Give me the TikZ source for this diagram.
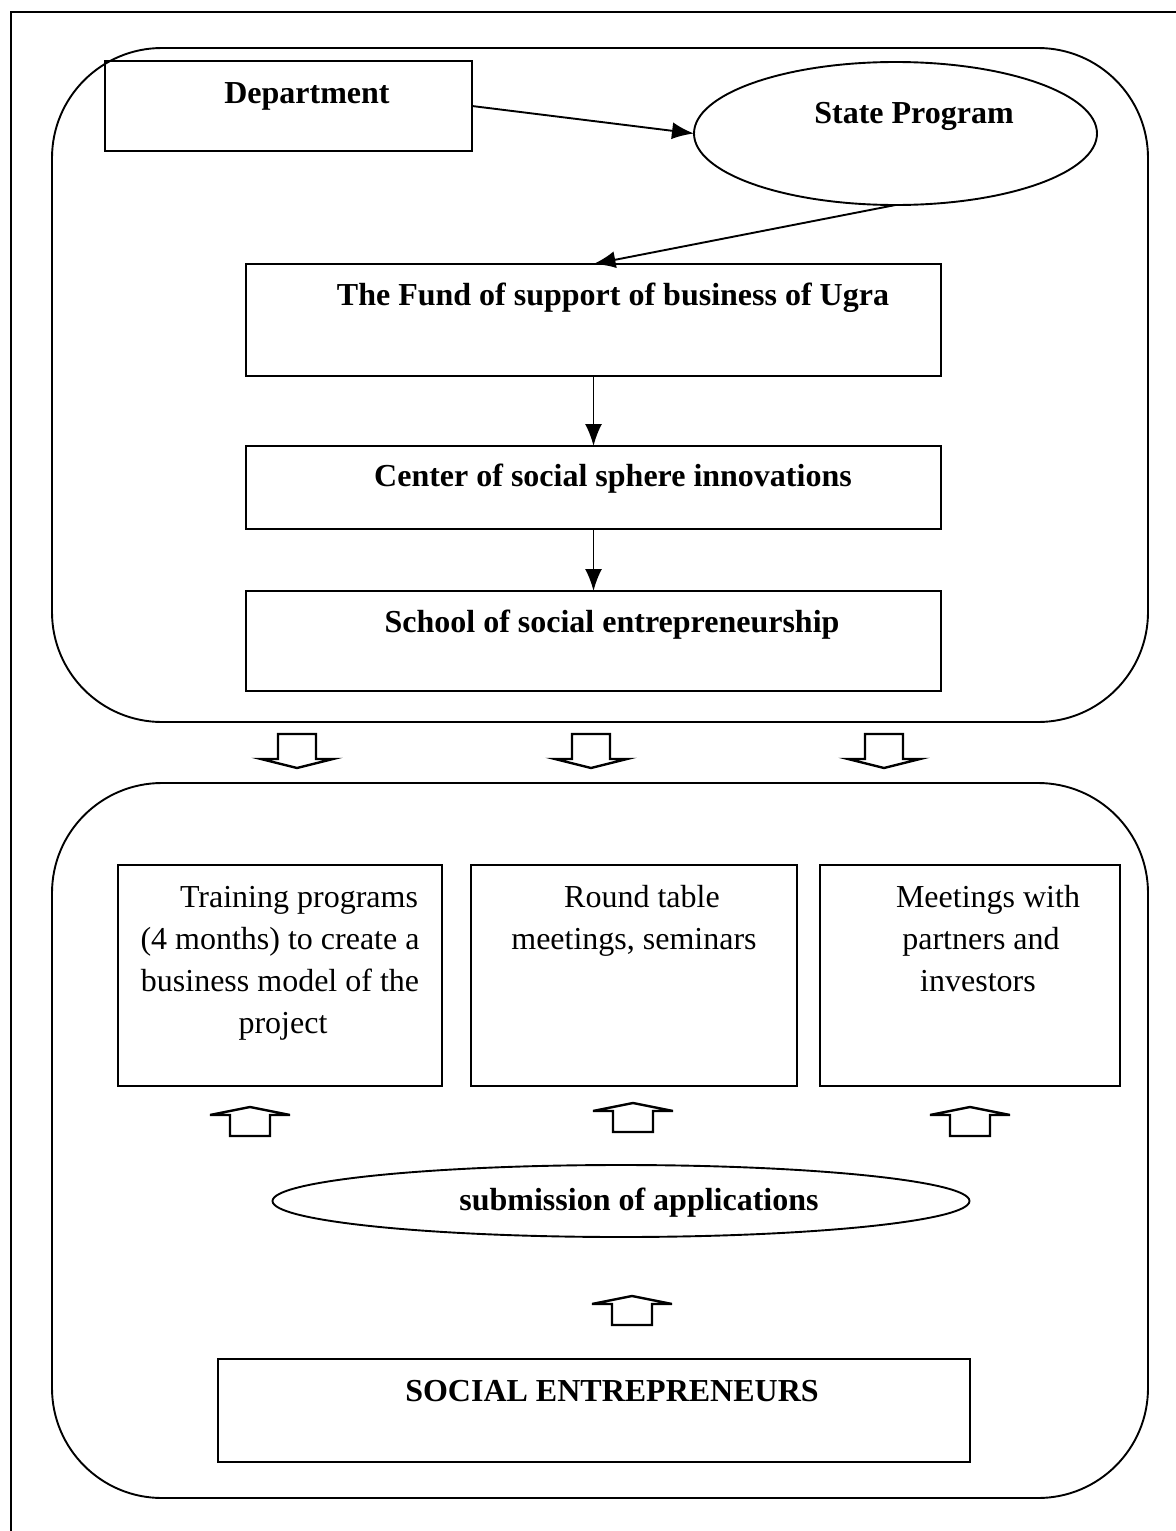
\documentclass[tikz,border=0pt]{standalone}
\usepackage{fontspec}
\setmainfont{Liberation Serif}
\usetikzlibrary{shapes.geometric,arrows.meta}
\begin{document}
\begin{tikzpicture}[x=0.5pt,y=-0.5pt,
 line width=0.95pt,
 box/.style={draw, rectangle, inner sep=0pt, outer sep=0pt},
 oval/.style={draw, ellipse, inner sep=0pt, outer sep=0pt},
 group/.style={draw, rounded corners=55pt},
 conn/.style={-{Latex[length=11pt,width=8.5pt]}},
 txt/.style={anchor=base, inner sep=0pt, font=\fontsize{16}{21}\selectfont},
 btxt/.style={anchor=base, inner sep=0pt, font=\fontsize{16}{21}\selectfont\bfseries},
 blockarrow/.style={draw, fill=white, line width=1.2pt, line join=miter},
 uparr/.pic={\draw[blockarrow] (-20,29)--(-20,8)--(-40,8)--(0,0)--(40,8)--(20,8)--(20,29)--cycle;},
 downarr/.pic={\draw[blockarrow] (-19,-34)--(-19,-9)--(-36,-9)--(0,0)--(36,-9)--(19,-9)--(19,-34)--cycle;}
]
\useasboundingbox (0,0) rectangle (1176,1531);
% outer frame (cut by the page on the right and bottom)
\draw (11,1545) -- (11,12) -- (1190,12);
% two groups
\draw[group] (52,48) rectangle (1148,722);
\draw[group] (52,783) rectangle (1148,1498);

% upper group
\node[box, minimum width=183.5pt, minimum height=45pt] (dep) at (288.5,106) {};
\node[btxt] (deptxt) at (307,103) {Department};
\node[oval, minimum width=201.5pt, minimum height=71.5pt] (sp) at (895.5,133.5) {};
\node[btxt] (sptxt) at (914,123) {State Program};
\node[box, minimum width=347.5pt, minimum height=56pt] (fund) at (593.5,320) {};
\node[btxt] (fundtxt) at (613,305) {The Fund of support of business of Ugra};
\node[box, minimum width=347.5pt, minimum height=41.5pt] (csi) at (593.5,487.5) {};
\node[btxt] (csitxt) at (613,486) {Center of social sphere innovations};
\node[box, minimum width=347.5pt, minimum height=50pt] (school) at (593.5,641) {};
\node[btxt] (schooltxt) at (612,632) {School of social entrepreneurship};

\draw[conn] (dep.east) -- (sp.west);
\draw[conn] (sp.south) -- (fund.north);
\draw[conn] (fund.south) -- (csi.north);
\draw[conn] (csi.south) -- (school.north);

% block arrows between groups
\pic (da1) at (297,768) {downarr};
\pic (da2) at (591,768) {downarr};
\pic (da3) at (884,768) {downarr};

% lower group
\node[box, minimum width=162pt, minimum height=110.5pt] (train) at (280,975.5) {};
\node[txt] (tr1) at (299,907) {Training programs};
\node[txt] (tr2) at (280,949) {(4 months) to create a};
\node[txt] (tr3) at (280,991) {business model of the};
\node[txt] (tr4) at (283,1033) {project};
\node[box, minimum width=163pt, minimum height=110.5pt] (round) at (634,975.5) {};
\node[txt] (rt1) at (642,907) {Round table};
\node[txt] (rt2) at (634,949) {meetings, seminars};
\node[box, minimum width=150pt, minimum height=110.5pt] (meet) at (970,975.5) {};
\node[txt] (mt1) at (988,907) {Meetings with};
\node[txt] (mt2) at (981,949) {partners and};
\node[txt] (mt3) at (978,991) {investors};

\pic (ua1) at (250,1107) {uparr};
\pic (ua2) at (633,1103) {uparr};
\pic (ua3) at (970,1107) {uparr};

\node[oval, minimum width=348.5pt, minimum height=36pt] (sub) at (621,1201) {};
\node[btxt] (subtxt) at (639,1210) {submission of applications};

\pic (ua4) at (632,1296) {uparr};

\node[box, minimum width=376pt, minimum height=51.5pt] (social) at (594,1410.5) {};
\node[btxt] (socialtxt) at (612,1401) {SOCIAL ENTREPRENEURS};
\end{tikzpicture}
\end{document}
